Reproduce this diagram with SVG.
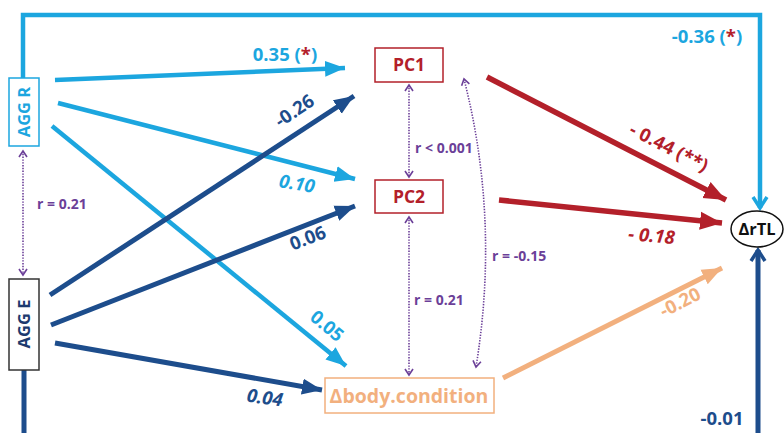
<svg xmlns="http://www.w3.org/2000/svg" width="784" height="433" viewBox="0 0 784 433">
<style>
text{font-family:"Open Sans","Liberation Sans",sans-serif;font-weight:bold}
.lb{fill:#1ca6df}.db{fill:#1d4d8c}.rd{fill:#b3202a}.or{fill:#f2b07e}.pu{fill:#6b3f98}
.box{fill:#fff;stroke-width:1.5}
.conn{fill:none}
.slb{stroke:#1ca6df;stroke-width:4.5}
.sdb{stroke:#1d4d8c;stroke-width:5}
.srd{stroke:#b3202a;stroke-width:5.5}
.sor{stroke:#f2b07e;stroke-width:5}
.dot{stroke:#6b3f98;stroke-width:1.6;stroke-dasharray:1.4 1.4}
.lab{font-size:18.5px;text-anchor:middle}
.r{font-size:14px}
</style>
<defs>
<marker id="aLB" markerUnits="userSpaceOnUse" markerWidth="22" markerHeight="18" refX="20" refY="9" orient="auto"><path d="M0,1 L20,9 L0,17 Z" fill="#1ca6df"/></marker>
<marker id="aDB" markerUnits="userSpaceOnUse" markerWidth="22" markerHeight="18" refX="20" refY="9" orient="auto"><path d="M0,1 L20,9 L0,17 Z" fill="#1d4d8c"/></marker>
<marker id="aRD" markerUnits="userSpaceOnUse" markerWidth="24" markerHeight="20" refX="22" refY="10" orient="auto"><path d="M0,1 L22,10 L0,19 Z" fill="#b3202a"/></marker>
<marker id="aOR" markerUnits="userSpaceOnUse" markerWidth="22" markerHeight="18" refX="20" refY="9" orient="auto"><path d="M0,1 L20,9 L0,17 Z" fill="#f2b07e"/></marker>
<marker id="vLB" markerUnits="userSpaceOnUse" markerWidth="18" markerHeight="18" refX="14" refY="9" orient="auto"><path d="M3,2 L14,9 L3,16" fill="none" stroke="#1ca6df" stroke-width="3.5"/></marker>
<marker id="vDB" markerUnits="userSpaceOnUse" markerWidth="18" markerHeight="18" refX="14" refY="9" orient="auto"><path d="M3,2 L14,9 L3,16" fill="none" stroke="#1d4d8c" stroke-width="3.5"/></marker>
<marker id="vPU" markerUnits="userSpaceOnUse" markerWidth="10" markerHeight="10" refX="7" refY="5" orient="auto-start-reverse"><path d="M1,1 L7,5 L1,9" fill="none" stroke="#6b3f98" stroke-width="1.6"/></marker>
</defs>

<g id="connectors">
<path class="conn slb" d="M23,78 V15 H760 V208" marker-end="url(#vLB)"/>
<path class="conn sdb" d="M24,370 V445 H758 V250" marker-end="url(#vDB)"/>
<line class="conn slb" x1="55" y1="80" x2="345" y2="68" marker-end="url(#aLB)"/>
<line class="conn slb" x1="58" y1="103" x2="355" y2="179" marker-end="url(#aLB)"/>
<line class="conn slb" x1="52" y1="126" x2="346" y2="366" marker-end="url(#aLB)"/>
<line class="conn sdb" x1="50" y1="295" x2="354" y2="96" marker-end="url(#aDB)"/>
<line class="conn sdb" x1="51" y1="325" x2="355" y2="206" marker-end="url(#aDB)"/>
<line class="conn sdb" x1="55" y1="343" x2="322" y2="390" marker-end="url(#aDB)"/>
<line class="conn srd" x1="487" y1="77" x2="726" y2="200" marker-end="url(#aRD)"/>
<line class="conn srd" x1="499" y1="200" x2="722" y2="223" marker-end="url(#aRD)"/>
<line class="conn sor" x1="503" y1="378" x2="722" y2="268" marker-end="url(#aOR)"/>
<line class="conn dot" x1="23" y1="151" x2="23" y2="275" marker-start="url(#vPU)" marker-end="url(#vPU)"/>
<line class="conn dot" x1="409" y1="85" x2="409" y2="177" marker-start="url(#vPU)" marker-end="url(#vPU)"/>
<line class="conn dot" x1="409" y1="217" x2="409" y2="375" marker-start="url(#vPU)" marker-end="url(#vPU)"/>
<path class="conn dot" d="M464,79 Q500,220 476,367" marker-start="url(#vPU)" marker-end="url(#vPU)"/>

<text class="lab lb" x="285" y="61">0.35 (<tspan class="rd">*</tspan>)</text>
<text class="lab lb" x="707" y="43">-0.36 (<tspan class="rd">*</tspan>)</text>
<text class="lab lb" font-style="italic" transform="translate(296,190) rotate(10)">0.10</text>
<text class="lab lb" transform="translate(323,331) rotate(40)">0.05</text>
<text class="lab db" transform="translate(298,116) rotate(-34)">-0.26</text>
<text class="lab db" transform="translate(310,244) rotate(-21)">0.06</text>
<text class="lab db" font-style="italic" transform="translate(264,404) rotate(8)">0.04</text>
<text class="lab db" x="722" y="425">-0.01</text>
<text class="lab rd" transform="translate(666,153) rotate(27)">- 0.44 (**)</text>
<text class="lab rd" font-style="italic" transform="translate(651,242) rotate(5)">- 0.18</text>
<text class="lab or" transform="translate(683,308) rotate(-27)">-0.20</text>
<text class="r pu" x="37" y="209">r = 0.21</text>
<text class="r pu" x="415" y="153">r &lt; 0.001</text>
<text class="r pu" x="414" y="305">r = 0.21</text>
<text class="r pu" x="492" y="261">r = -0.15</text>
</g>

<g id="aggR">
<rect class="box" x="9" y="78" width="30" height="68" stroke="#1ca6df"/>
<text class="lb" font-size="16.5" text-anchor="middle" transform="translate(30,112) rotate(-90)">AGG R</text>
</g>
<g id="aggE">
<rect class="box" x="9" y="279" width="30" height="91" stroke="#333"/>
<text font-size="16.5" text-anchor="middle" fill="#1d3a6e" transform="translate(30,324) rotate(-90)">AGG E</text>
</g>
<g id="pc1">
<rect class="box" x="375" y="48" width="68" height="34" stroke="#b3202a"/>
<text class="rd" font-size="17.5" text-anchor="middle" x="409" y="71">PC1</text>
</g>
<g id="pc2">
<rect class="box" x="375" y="180" width="68" height="33" stroke="#b3202a"/>
<text class="rd" font-size="17.5" text-anchor="middle" x="409" y="203">PC2</text>
</g>
<g id="body">
<rect class="box" x="325" y="378" width="169" height="35" stroke="#f2b07e"/>
<text class="or" font-size="19.5" text-anchor="middle" x="409" y="403">Δbody.condition</text>
</g>
<g id="rtl">
<ellipse cx="757" cy="229" rx="26" ry="18" fill="#fff" stroke="#111" stroke-width="1.5"/>
<text font-size="16.5" text-anchor="middle" x="757" y="235" fill="#111">ΔrTL</text>
</g>
</svg>
